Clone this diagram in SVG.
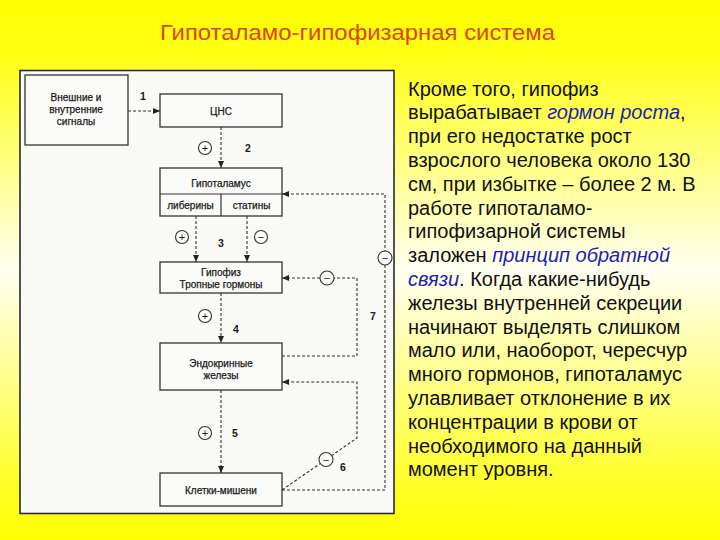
<svg xmlns="http://www.w3.org/2000/svg" width="720" height="540" viewBox="0 0 720 540">
<defs>
  <linearGradient id="bg" x1="0" y1="0" x2="0" y2="1">
    <stop offset="0" stop-color="#FFFF00"/>
    <stop offset="0.1" stop-color="#FFFF14"/>
    <stop offset="0.5" stop-color="#FFFFF2"/>
    <stop offset="0.88" stop-color="#FFFF30"/>
    <stop offset="1" stop-color="#FFFF00"/>
  </linearGradient>
  <marker id="arr" markerWidth="7" markerHeight="6" refX="7" refY="3" orient="auto" markerUnits="userSpaceOnUse">
    <path d="M0,0 L7,3 L0,6 z" fill="#222"/>
  </marker>
</defs>
<style>
  .panel { fill:#F9F9F6; stroke:#2a2a2a; stroke-width:1.6; }
  .box { fill:#FAFAF8; stroke:#333; stroke-width:1.3; }
  .div { stroke:#333; stroke-width:1.2; }
  .lbl { font-family:"Liberation Sans", Arial, sans-serif; font-size:10px; fill:#1a1a1a; stroke:#1a1a1a; stroke-width:0.25; text-anchor:middle; }
  .num { font-family:"Liberation Sans", Arial, sans-serif; font-size:10.5px; font-weight:bold; fill:#1a1a1a; text-anchor:middle; }
  .conn path { fill:none; stroke:#333; stroke-width:1.1; stroke-dasharray:3 2; }
  .sign circle { fill:#FAFAF8; stroke:#333; stroke-width:1.1; }
  .sign text { font-family:"Liberation Sans", Arial, sans-serif; font-size:11px; fill:#1a1a1a; text-anchor:middle; }
  .title { font-family:"Liberation Sans", Arial, sans-serif; font-size:22px; fill:#DC4416; }
  .body { font-family:"Liberation Sans", Arial, sans-serif; font-size:20px; fill:#111; }
  .em { fill:#1E1EB4; font-style:italic; }
</style>
<rect x="0" y="0" width="720" height="540" fill="url(#bg)"/>
<text class="title" x="160" y="39.5" textLength="395" lengthAdjust="spacingAndGlyphs">Гипоталамо-гипофизарная система</text>

<rect class="panel" x="20" y="70.5" width="374" height="443"/>

<g id="signals">
  <rect class="box" x="25" y="75" width="103" height="70"/>
  <text class="lbl" x="76" y="101">Внешние и</text>
  <text class="lbl" x="76" y="113">внутренние</text>
  <text class="lbl" x="76" y="125">сигналы</text>
</g>
<g id="cns">
  <rect class="box" x="160" y="94" width="122" height="33"/>
  <text class="lbl" x="221" y="114.5">ЦНС</text>
</g>
<g id="hypothalamus">
  <rect class="box" x="160" y="168" width="122" height="48"/>
  <line class="div" x1="160" y1="194" x2="282" y2="194"/>
  <line class="div" x1="221" y1="194" x2="221" y2="216"/>
  <text class="lbl" x="221" y="186.5">Гипоталамус</text>
  <text class="lbl" x="190.5" y="208.5">либерины</text>
  <text class="lbl" x="251.5" y="208.5">статины</text>
</g>
<g id="hypophysis">
  <rect class="box" x="160" y="262" width="122" height="31"/>
  <text class="lbl" x="221" y="275.5">Гипофиз</text>
  <text class="lbl" x="221" y="287.5">Тропные гормоны</text>
</g>
<g id="endocrine">
  <rect class="box" x="160" y="343" width="122" height="47"/>
  <text class="lbl" x="221" y="366.5">Эндокринные</text>
  <text class="lbl" x="221" y="378.5">железы</text>
</g>
<g id="cells">
  <rect class="box" x="160" y="473" width="122" height="33"/>
  <text class="lbl" x="221" y="493.5">Клетки-мишени</text>
</g>

<g id="connectors" class="conn">
  <path d="M128,111 L160,111" marker-end="url(#arr)"/>
  <path d="M221,127 L221,168" marker-end="url(#arr)"/>
  <path d="M196,216 L196,262" marker-end="url(#arr)"/>
  <path d="M247,216 L247,262" marker-end="url(#arr)"/>
  <path d="M221,293 L221,343" marker-end="url(#arr)"/>
  <path d="M221,390 L221,473" marker-end="url(#arr)"/>
  <path d="M282,356 L357,356 L357,278 L282,278" marker-end="url(#arr)"/>
  <path d="M282,490 L357,438 L357,382 L282,382" marker-end="url(#arr)"/>
  <path d="M282,490 L385,490 L385,194 L282,194" marker-end="url(#arr)"/>
</g>

<g id="signs" class="sign">
  <g><circle cx="205" cy="148" r="6.5"/><text x="205" y="152">+</text></g>
  <g><circle cx="182" cy="237" r="6.5"/><text x="182" y="241">+</text></g>
  <g><circle cx="261" cy="237" r="6.5"/><text x="261" y="241">−</text></g>
  <g><circle cx="327" cy="278" r="7"/><text x="327" y="282">−</text></g>
  <g><circle cx="385" cy="258" r="7"/><text x="385" y="262">−</text></g>
  <g><circle cx="205" cy="316" r="6.5"/><text x="205" y="320">+</text></g>
  <g><circle cx="205" cy="433" r="6.5"/><text x="205" y="437">+</text></g>
  <g><circle cx="326" cy="459.5" r="7"/><text x="326" y="463.5">−</text></g>
</g>

<g id="numbers">
  <text class="num" x="143" y="100">1</text>
  <text class="num" x="248" y="152">2</text>
  <text class="num" x="221" y="247">3</text>
  <text class="num" x="236" y="333">4</text>
  <text class="num" x="235" y="437">5</text>
  <text class="num" x="343" y="471">6</text>
  <text class="num" x="373" y="320">7</text>
</g>

<g id="body" class="body">
  <text x="408" y="95.5">Кроме того, гипофиз</text>
  <text x="408" y="119.3">вырабатывает <tspan class="em">гормон роста</tspan>,</text>
  <text x="408" y="143.1">при его недостатке рост</text>
  <text x="408" y="166.9">взрослого человека около 130</text>
  <text x="408" y="190.7">см, при избытке – более 2 м. В</text>
  <text x="408" y="214.5">работе гипоталамо-</text>
  <text x="408" y="238.3">гипофизарной системы</text>
  <text x="408" y="262.1">заложен <tspan class="em">принцип обратной</tspan></text>
  <text x="408" y="285.9"><tspan class="em">связи</tspan>. Когда какие-нибудь</text>
  <text x="408" y="309.7">железы внутренней секреции</text>
  <text x="408" y="333.5">начинают выделять слишком</text>
  <text x="408" y="357.3">мало или, наоборот, чересчур</text>
  <text x="408" y="381.1">много гормонов, гипоталамус</text>
  <text x="408" y="404.9">улавливает отклонение в их</text>
  <text x="408" y="428.7">концентрации в крови от</text>
  <text x="408" y="452.5">необходимого на данный</text>
  <text x="408" y="476.3">момент уровня.</text>
</g>
</svg>
